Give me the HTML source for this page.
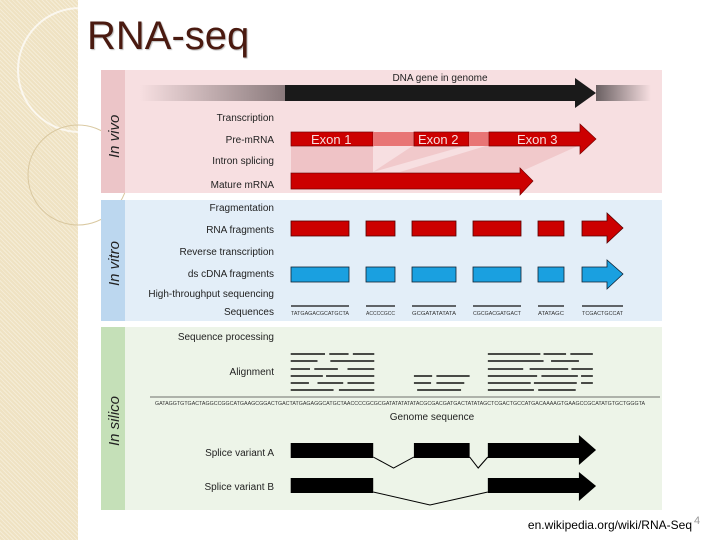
<!DOCTYPE html>
<html><head><meta charset="utf-8"><style>
body{margin:0;width:720px;height:540px;overflow:hidden;background:#fff;font-family:"Liberation Sans",sans-serif;position:relative}
.side{position:absolute;left:0;top:0;width:78px;height:540px;background:#efe2c2;background-image:repeating-linear-gradient(45deg,rgba(255,255,255,.35) 0 1px,transparent 1px 3px)}
.title{position:absolute;left:87px;top:14px;font-size:40px;color:#4a1a10;text-shadow:1px 1px 1px #bbb}
svg{position:absolute;left:0;top:0}
.foot{position:absolute;right:28px;top:518px;font-size:12px;color:#000}
.pg{position:absolute;left:694px;top:515px;font-size:11px;color:#999}
</style></head><body>
<div class="side"></div>
<svg width="720" height="540" style="left:0">
<circle cx="80" cy="70" r="62" fill="none" stroke="#fff" stroke-width="2" opacity=".7"/>
<circle cx="78" cy="175" r="50" fill="none" stroke="#d9c8a0" stroke-width="1"/>
</svg>
<div class="title">RNA-seq</div>
<svg width="720" height="540" font-family="Liberation Sans,sans-serif">
<defs>
<linearGradient id="gl"><stop offset="0" stop-color="#f7dfe1"/><stop offset="1" stop-color="#8a7a7c"/></linearGradient>
<linearGradient id="gr"><stop offset="0" stop-color="#6a6062"/><stop offset="1" stop-color="#f7dfe1"/></linearGradient>
</defs>
<rect x="101" y="70" width="561" height="123" fill="#f7dfe1"/>
<rect x="101" y="70" width="24" height="123" fill="#ecc5c8"/>
<rect x="101" y="200" width="561" height="121" fill="#e3eef8"/>
<rect x="101" y="200" width="24" height="121" fill="#bcd7ef"/>
<rect x="101" y="327" width="561" height="183" fill="#edf4e8"/>
<rect x="101" y="327" width="24" height="183" fill="#c5e0b8"/>
<g font-size="15" font-style="italic" fill="#222">
<text transform="translate(119,158) rotate(-90)">In vivo</text>
<text transform="translate(119,286) rotate(-90)">In vitro</text>
<text transform="translate(119,446) rotate(-90)">In silico</text>
</g>
<!-- DNA -->
<rect x="140" y="85" width="145" height="16" fill="url(#gl)"/>
<rect x="596" y="85" width="55" height="16" fill="url(#gr)"/>
<polygon points="285,85 575,85 575,78 596,93 575,108 575,101 285,101" fill="#1a1a1a"/>
<text x="440" y="81" font-size="10" text-anchor="middle" fill="#222">DNA gene in genome</text>
<!-- splicing shading -->
<polygon points="291,145 373,145 373,172 291,172" fill="#efc3c6"/>
<polygon points="414,145 468,145 373,172 373,172" fill="#efc3c6" opacity=".8"/>
<polygon points="489,145 580,145 520,172 400,172" fill="#efc3c6" opacity=".8"/>
<!-- pre-mRNA -->
<rect x="291" y="132" width="82" height="14" fill="#cc0000" stroke="#700" stroke-width=".7"/>
<rect x="373" y="132" width="41" height="14" fill="#e87575"/>
<rect x="414" y="132" width="55" height="14" fill="#cc0000" stroke="#700" stroke-width=".7"/>
<rect x="469" y="132" width="20" height="14" fill="#e87575"/>
<polygon points="489,132 580,132 580,124 596,139 580,154 580,146 489,146" fill="#cc0000" stroke="#700" stroke-width=".7"/>
<g font-size="13" fill="#f5dede"><text x="311" y="144">Exon 1</text><text x="418" y="144">Exon 2</text><text x="517" y="144">Exon 3</text></g>
<polygon points="291,173 520,173 520,168 533,181 520,195 520,189 291,189" fill="#cc0000" stroke="#700" stroke-width=".7"/>
<!-- labels -->
<g font-size="10" fill="#222" text-anchor="end">
<text x="274" y="121">Transcription</text><text x="274" y="143">Pre-mRNA</text><text x="274" y="164">Intron splicing</text><text x="274" y="188">Mature mRNA</text>
<text x="274" y="211">Fragmentation</text><text x="274" y="233">RNA fragments</text><text x="274" y="255">Reverse transcription</text><text x="274" y="277">ds cDNA fragments</text><text x="274" y="297">High-throughput sequencing</text><text x="274" y="315">Sequences</text>
<text x="274" y="340">Sequence processing</text><text x="274" y="375">Alignment</text><text x="274" y="456">Splice variant A</text><text x="274" y="490">Splice variant B</text>
</g>
<!-- fragments -->
<g fill="#cc0000" stroke="#500" stroke-width=".8">
<rect x="291" y="221" width="58" height="15"/><rect x="366" y="221" width="29" height="15"/><rect x="412" y="221" width="44" height="15"/><rect x="473" y="221" width="48" height="15"/><rect x="538" y="221" width="26" height="15"/>
<polygon points="582,221 607,221 607,213 623,228 607,243 607,236 582,236"/>
</g>
<g fill="#1aa0e0" stroke="#123" stroke-width=".8">
<rect x="291" y="267" width="58" height="15"/><rect x="366" y="267" width="29" height="15"/><rect x="412" y="267" width="44" height="15"/><rect x="473" y="267" width="48" height="15"/><rect x="538" y="267" width="26" height="15"/>
<polygon points="582,267 607,267 607,260 623,274 607,289 607,282 582,282"/>
</g>
<g stroke="#111" stroke-width="1.2">
<line x1="291" y1="306" x2="349" y2="306"/><line x1="366" y1="306" x2="395" y2="306"/><line x1="412" y1="306" x2="456" y2="306"/><line x1="473" y1="306" x2="521" y2="306"/><line x1="538" y1="306" x2="564" y2="306"/><line x1="582" y1="306" x2="623" y2="306"/>
</g>
<g font-size="5" fill="#333"><text x="291" y="315" textLength="58" lengthAdjust="spacingAndGlyphs">TATGAGACGCATGCTA</text><text x="366" y="315" textLength="29" lengthAdjust="spacingAndGlyphs">ACCCCGCC</text><text x="412" y="315" textLength="44" lengthAdjust="spacingAndGlyphs">GCGATATATATA</text><text x="473" y="315" textLength="48" lengthAdjust="spacingAndGlyphs">CGCGACGATGACT</text><text x="538" y="315" textLength="26" lengthAdjust="spacingAndGlyphs">ATATAGC</text><text x="582" y="315" textLength="41" lengthAdjust="spacingAndGlyphs">TCGACTGCCAT</text></g>
<g transform="matrix(1.0714,0,0,1,-7.14,0)">
<!-- alignment -->
<g stroke="#111" stroke-width="1.6">
<path d="M278 354h32M314 354h18M336 354h20M278 361h25M315 361h41M278 369h18M300 369h22M331 369h25M278 376h30M311 376h45M278 383h17M303 383h24M331 383h25M278 390h40M323 390h33"/>
<path d="M393 376h17M414 376h31M393 383h16M414 383h26M396 390h41"/>
<path d="M462 354h49M514 354h21M539 354h21M462 361h52M521 361h26M462 369h33M501 369h36M540 369h20M462 376h46M512 376h34M549 376h11M462 383h40M505 383h40M549 383h11M462 390h43M509 390h35"/>
</g>
<!-- splice variants -->
<g fill="#000">
<rect x="278" y="443" width="77" height="15"/><rect x="393" y="443" width="52" height="15"/>
<polygon points="462,443 547,443 547,435 563,450 547,465 547,458 462,458"/>
<rect x="278" y="478" width="77" height="15"/>
<polygon points="462,478 547,478 547,472 563,486 547,501 547,493 462,493"/>
</g>
<g fill="none" stroke="#000" stroke-width="1">
<polyline points="355,457 374,468 393,457"/><polyline points="445,457 453,468 462,457"/><polyline points="355,492 408,505 462,492"/>
</g>
</g>
<line x1="150" y1="397" x2="660" y2="397" stroke="#444" stroke-width=".8"/>
<text x="155" y="405" font-size="5" fill="#333" textLength="490" lengthAdjust="spacingAndGlyphs">GATAGGTGTGACTAGGCCGGCATGAAGCGGACTGACTATGAGAGGCATGCTAACCCCGCGCGATATATATATACGCGACGATGACTATATAGCTCGACTGCCATGACAAAAGTGAAGCCGCATATGTGCTGGGTA</text>
<text x="432" y="420" font-size="10" text-anchor="middle" fill="#222">Genome sequence</text>
</svg>
<div class="foot">en.wikipedia.org/wiki/RNA-Seq</div>
<div class="pg">4</div>
</body></html>
